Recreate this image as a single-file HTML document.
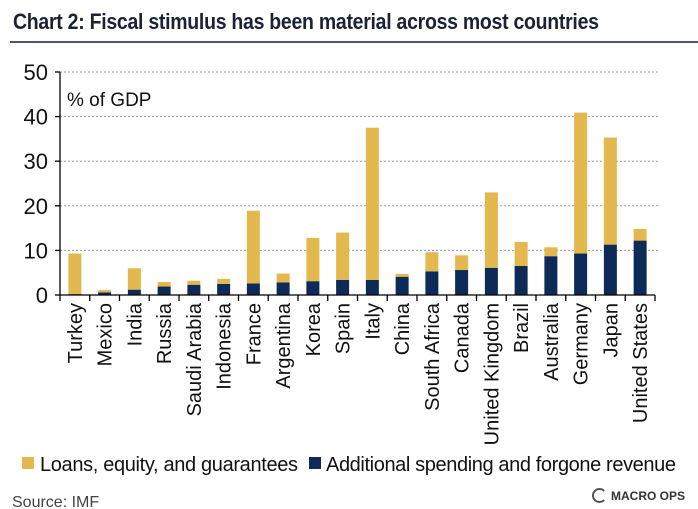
<!DOCTYPE html>
<html><head><meta charset="utf-8"><style>
body{margin:0;background:#fff;font-family:"Liberation Sans",Arial,sans-serif;}
#wrap{position:relative;width:698px;height:509px;overflow:hidden;background:#fff}
</style></head><body>
<div id="wrap">
<div style="position:absolute;left:13px;top:9px;font-family:'Liberation Sans Narrow','Liberation Sans',sans-serif;font-weight:bold;font-size:22px;color:#1a2233;letter-spacing:-0.3px;transform:scaleX(0.885);transform-origin:left top;white-space:nowrap">Chart 2: Fiscal stimulus has been material across most countries</div>
<div style="position:absolute;left:10px;top:41px;width:688px;height:2px;background:#4a5873"></div>
<svg id="chart" width="698" height="509" style="position:absolute;left:0;top:0"></svg>
<div style="position:absolute;left:12px;top:494px;font-size:16px;color:#444">Source: IMF</div>
<div style="position:absolute;left:592px;top:488px;font-size:12px;font-weight:bold;color:#333;white-space:nowrap"><span style="display:inline-block;width:11px;height:11px;border:2px solid #555;border-radius:50%;vertical-align:-3px;margin-right:4px;border-right-color:transparent"></span>MACRO OPS</div>
</div>
<script>
const categories=["Turkey","Mexico","India","Russia","Saudi Arabia","Indonesia","France","Argentina","Korea","Spain","Italy","China","South Africa","Canada","United Kingdom","Brazil","Australia","Germany","Japan","United States"];
const spending=[0.2,0.6,1.2,1.9,2.3,2.5,2.6,2.8,3.1,3.4,3.4,4.1,5.3,5.6,6.1,6.5,8.7,9.3,11.3,12.2];
const loans=[9.1,0.5,4.8,1.0,0.9,1.1,16.3,2.0,9.7,10.6,34.1,0.6,4.3,3.3,16.9,5.4,2.0,31.6,24.0,2.6];
const yTicks=[0,10,20,30,40,50];
const NS="http://www.w3.org/2000/svg";
const svg=document.getElementById('chart');
const X0=60,X1=655,Y0=295,Y1=72,YMAX=50;
const band=(X1-X0)/categories.length;
function y(v){return Y0-(v/YMAX)*(Y0-Y1);}
function xc(i){return X0+band*(i+0.5);}
function mk(t,a){const e=document.createElementNS(NS,t);for(const k in a)e.setAttribute(k,a[k]);svg.appendChild(e);return e;}
yTicks.forEach(t=>{
  if(t>0){const g=mk('line',{x1:X0,x2:660,y1:y(t),y2:y(t),stroke:'#999','stroke-dasharray':'2,2','stroke-width':1});
  
  }
  const tk=mk('line',{x1:X0-5,x2:X0,y1:y(t),y2:y(t),stroke:'#000','stroke-width':1.3});
  
  
  const tx=mk('text',{x:X0-12,y:y(t)+8,'text-anchor':'end','font-size':22,fill:'#111','font-family':'Liberation Sans Narrow, Liberation Sans, sans-serif'});
  tx.textContent=t;
  
  
});
const yl=mk('text',{x:67,y:106,'font-size':19,fill:'#111'});yl.textContent='% of GDP';


const bw=13;
categories.forEach((c,i)=>{
  const b1=mk('rect',{x:xc(i)-bw/2,y:y(spending[i]),width:bw,height:Y0-y(spending[i]),fill:'#0e2a57'});
  
  
  const top=spending[i]+loans[i];
  const b2=mk('rect',{x:xc(i)-bw/2,y:y(top),width:bw,height:y(spending[i])-y(top),fill:'#e3b84f'});
  
  
  const lb=mk('text',{x:0,y:0,'text-anchor':'end','font-size':20,fill:'#111',transform:`translate(${xc(i)+7},303) rotate(-90)`});
  lb.textContent=c;
  
  
});
for(let i=0;i<=categories.length;i++){
  const t=mk('line',{x1:X0+band*i,x2:X0+band*i,y1:Y0,y2:Y0+6,stroke:'#000','stroke-width':1.3});
  
  
}
const ax=mk('line',{x1:X0,x2:X0,y1:Y1,y2:Y0,stroke:'#000','stroke-width':1.3});

const bx=mk('line',{x1:X0,x2:X1,y1:Y0,y2:Y0,stroke:'#000','stroke-width':1.3});

const l1=mk('rect',{x:22,y:457,width:12,height:12,fill:'#e3b84f'});

const lt1=mk('text',{x:40,y:471,'font-size':20,fill:'#111','textLength':258});lt1.textContent='Loans, equity, and guarantees';

const l2=mk('rect',{x:309,y:457,width:12,height:12,fill:'#0e2a57'});

const lt2=mk('text',{x:326,y:471,'font-size':20,fill:'#111','textLength':350});lt2.textContent='Additional spending and forgone revenue';

</script>
</body></html>
